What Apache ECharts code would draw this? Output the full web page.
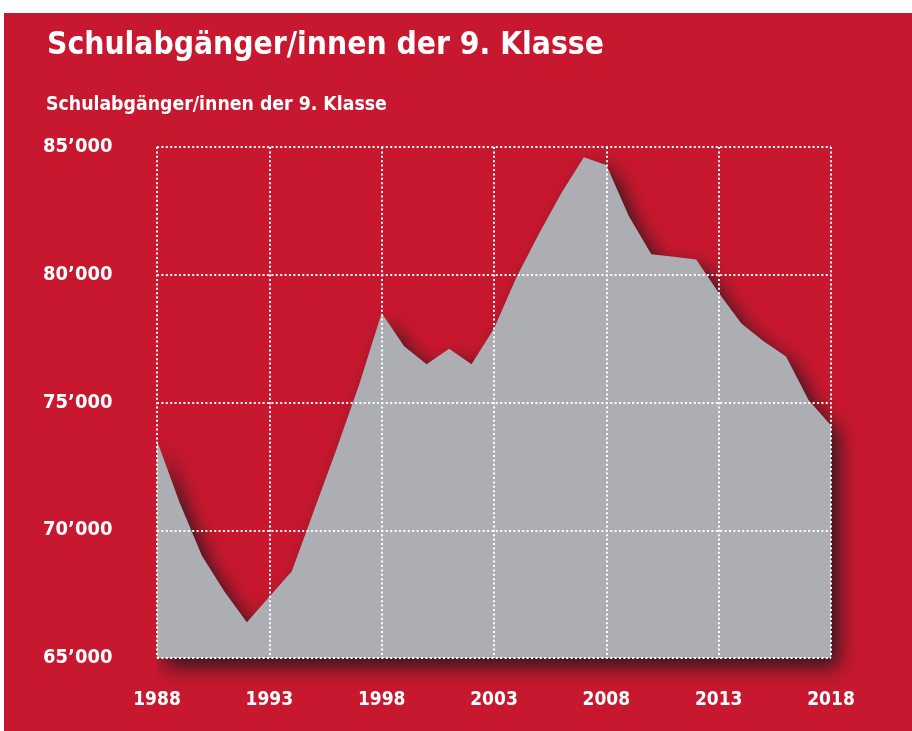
<!DOCTYPE html>
<html>
<head>
<meta charset="utf-8">
<script src="https://cdn.jsdelivr.net/npm/echarts@6/dist/echarts.min.js"></script>
<style>
html,body{margin:0;padding:0;background:#fff;}
#chart{width:912px;height:731px;}
</style>
</head>
<body>
<div id="chart"></div>
<script>
// Schulabgänger/innen der 9. Klasse, 1988 - 2018
var years = [1988,1989,1990,1991,1992,1993,1994,1995,1996,1997,
             1998,1999,2000,2001,2002,2003,2004,2005,2006,2007,
             2008,2009,2010,2011,2012,2013,2014,2015,2016,2017,2018];
var abgaenger = [73500,71100,69000,67600,66400,67400,68400,70800,73200,75700,
                 78500,77200,76500,77100,76500,77900,79900,81600,83200,84600,
                 84300,82300,80800,80700,80600,79300,78100,77400,76800,75100,74100];
var yTicks = [65000,70000,75000,80000,85000];

var fontNarrow = "'Liberation Sans Narrow','DejaVu Sans Condensed','Lato',sans-serif";
var rot = '#c8182f';

var myChart = echarts.init(document.getElementById('chart'));

// Tausender mit ’ trennen
function fmt(v){
	var s = String(v);
	return s.slice(0, s.length-3) + '\u2019' + s.slice(-3);
}

// Grid für Achsen: x 157..831; zweites Grid für die Fläche, nach rechts
// verlängert (bis 2020), damit der Schatten nicht abgeschnitten wird
var gLeft = 157, gRight = 831, extraYears = 2;
var gW = gRight - gLeft;
var gW2 = gW * (years.length - 1 + extraYears) / (years.length - 1);

var option = {
	backgroundColor: '#fff',
	animation: false,
	graphic: [{
		type: 'rect',
		z: -10,
		shape: {x: 4, y: 13, width: 908, height: 718},
		style: {fill: rot}
	}],
	title: [{
		text: 'Schulabgänger/innen der 9. Klasse',
		left: 42, top: 25,
		textStyle: {color: '#fff', fontSize: 31.5, fontWeight: 'bold', fontFamily: fontNarrow}
	},{
		text: 'Schulabgänger/innen der 9. Klasse',
		left: 41, top: 90,
		textStyle: {color: '#fff', fontSize: 19.3, fontWeight: 'bold', fontFamily: fontNarrow}
	}],
	grid: [
		{left: gLeft, width: gW, top: 147, bottom: 73},
		{left: gLeft, width: gW2, top: 147, bottom: 73}
	],
	xAxis: [{
		type: 'category',
		gridIndex: 0,
		data: years.map(String),
		boundaryGap: false,
		z: 5,
		axisLine: {show: false},
		axisTick: {show: false},
		axisLabel: {
			interval: 4, margin: 33,
			color: '#fff', fontSize: 19, fontWeight: 'bold', fontFamily: fontNarrow
		},
		splitLine: {
			show: true, interval: 4,
			lineStyle: {color: '#fff', width: 2, type: [2, 2.4]}
		}
	},{
		type: 'value',
		gridIndex: 1,
		min: years[0], max: years[years.length-1] + extraYears,
		show: false
	}],
	yAxis: [{
		type: 'value',
		gridIndex: 0,
		min: yTicks[0], max: yTicks[yTicks.length-1], interval: 5000,
		z: 5,
		axisLine: {show: false},
		axisTick: {show: false},
		axisLabel: {
			align: 'left', margin: 114,
			color: '#fff', fontSize: 20, fontWeight: 'bold', fontFamily: fontNarrow,
			formatter: fmt
		},
		splitLine: {
			lineStyle: {color: '#fff', width: 2, type: [2, 2.4]}
		}
	},{
		type: 'value',
		gridIndex: 1,
		min: yTicks[0], max: yTicks[yTicks.length-1],
		show: false
	}],
	series: [{
		type: 'line',
		xAxisIndex: 1,
		yAxisIndex: 1,
		data: years.map(function(y, i){ return [y, abgaenger[i]]; }),
		symbol: 'none',
		clip: false,
		lineStyle: {width: 0},
		areaStyle: {
			color: '#acaeb4',
			opacity: 1,
			shadowColor: 'rgba(35,25,30,0.95)',
			shadowBlur: 20,
			shadowOffsetX: 8,
			shadowOffsetY: 9
		}
	}]
};
myChart.setOption(option);
</script>
</body>
</html>
